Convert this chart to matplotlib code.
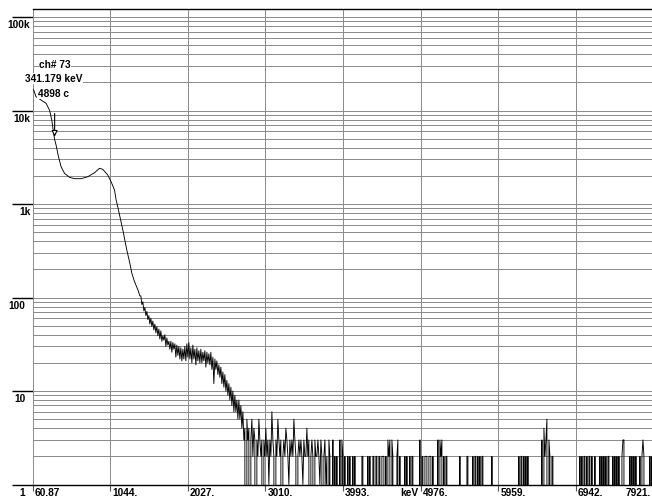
import numpy as np
import matplotlib
matplotlib.use("Agg")
import matplotlib.pyplot as plt
from matplotlib.ticker import LogLocator, NullFormatter
from matplotlib.transforms import blended_transform_factory

# smooth low-energy part of the spectrum (keV, counts)
smooth_kev = [60.87, 62, 77, 106, 170, 233, 276, 305, 331, 341.179, 360, 390,
              423, 466, 530, 593, 676, 761, 846, 909, 951, 1014, 1056, 1099,
              1120, 1141, 1205, 1255, 1290, 1318, 1350, 1382, 1400, 1420]
smooth_counts = [365, 16900, 16500, 14050, 12950, 11940, 10120, 7910, 5500, 4898, 4250, 3200,
                 2505, 2130, 1930, 1866, 1866, 1960, 2160, 2410, 2350, 2042, 1733, 1413,
                 1105, 929, 527, 322, 240, 183, 150, 129, 118, 104]

# one value per screen column (~12.67 keV) above 1430 keV
bin_kev = 12.665
noisy_start_kev = 1433.0
noisy_counts = [104, 84, 90, 72, 78, 64, 71, 58, 64, 52,
                60, 49, 56, 45, 52, 42, 49, 39, 46, 36,
                44, 34, 39, 35, 40, 30, 37, 31, 34, 28,
                34, 26, 33, 28, 32, 23, 31, 24, 30, 22,
                29, 21, 28, 22, 30, 21, 32, 23, 33, 22,
                29, 20, 31, 22, 28, 19, 29, 21, 27, 20,
                28, 20, 26, 21, 27, 18, 26, 20, 25, 19,
                26, 17, 23, 12, 22, 17, 21, 15, 19, 14,
                18, 12, 16, 11, 15, 10, 13, 9, 12, 8,
                11, 7, 10, 6, 9, 6, 8, 5, 8, 5,
                7, 4, 6, 3]
tail_rows = [
    "4053403524", "3032532303", "2423132632", "0325323023", "2432132325",
    "3202323213", "2242302320", "3223213202", "3120320030", "2020030320",
    "2002020020", "2000000220", "0002020022", "0220220222", "0203230320",
    "0023020000", "2020020220", "0000030220", "2220222020", "0003032302",
    "0220000000", "0000020000", "0022000020", "2202020220", "0000000200",
    "0000000000", "0000000000", "0000202202", "0202000000", "0000000304",
    "2350320220", "0000000000", "0000000000", "0000020202", "2020220200",
    "2000020202", "0202200020", "2020200233", "0000020202", "0200020232",
    "0000020200",
]

x_ticks = [60.87, 1044, 2027, 3010, 3993, 4976, 5959, 6942, 7921]
x_tick_labels = ["60.87", "1044.", "2027.", "3010.", "3993.", "4976.", "5959.", "6942.", "7921."]
y_ticks = [1, 10, 100, 1000, 10000, 100000]
y_tick_labels = ["1", "10", "100", "1k", "10k", "100k"]

cursor_channel = 73
cursor_kev = 341.179
cursor_counts = 4898

plt.rcParams["font.family"] = ["Liberation Sans", "DejaVu Sans"]
txt = dict(fontsize=7.3, fontweight="bold", color="black")

tail_counts = [int(c) for c in "".join(tail_rows)]
tail_start_kev = noisy_start_kev + len(noisy_counts) * bin_kev
noisy_kev = noisy_start_kev + np.arange(len(noisy_counts)) * bin_kev
tail_kev = tail_start_kev + np.arange(len(tail_counts)) * bin_kev

kev = np.concatenate([smooth_kev, noisy_kev, tail_kev])
counts = np.concatenate([smooth_counts, noisy_counts, tail_counts]).astype(float)

W, H = 652, 499
fig = plt.figure(figsize=(W / 100, H / 100), dpi=100)
ax = fig.add_axes([32.5 / W, 14.5 / H, 621.1 / W, 475.5 / H])
ax.set_yscale("log", nonpositive="clip")
ax.set_xlim(60.87, 7925.8)
ax.set_ylim(1, 10 ** 5.086)

grid_col = "#8c8c8c"
ax.set_yticks(y_ticks)
ax.yaxis.set_minor_locator(LogLocator(base=10, subs=range(2, 10)))
ax.yaxis.set_minor_formatter(NullFormatter())
ax.tick_params(axis="y", which="major", length=14.9, width=1.0, color="black",
               direction="out", labelleft=False)
ax.tick_params(axis="y", which="minor", length=0, labelleft=False)
ax.set_xticks(x_ticks)
ax.tick_params(axis="x", which="major", length=4, width=0.8, color="#555555",
               direction="out", labelbottom=False)
ax.grid(True, axis="y", which="both", color=grid_col, lw=0.72)
ax.grid(True, axis="x", which="major", color=grid_col, lw=0.72)
ax.set_axisbelow(True)

ax.spines["right"].set_visible(False)
ax.spines["left"].set_color(grid_col)
ax.spines["left"].set_linewidth(0.72)
for s in ("top", "bottom"):
    ax.spines[s].set_color("black")
    ax.spines[s].set_linewidth(1.0)

ax.plot(kev, counts, color="black", lw=0.65, zorder=3)

# axis labels drawn by hand so each can sit where the analyser puts it
xt = blended_transform_factory(ax.transData, ax.transAxes)
for v, lab in zip(x_ticks, x_tick_labels):
    if v == x_ticks[-1]:
        ha, dx = "right", -2.5
    else:
        ha, dx = "left", 2
    ax.annotate(lab, xy=(v, 0), xycoords=xt, xytext=(dx, -3),
                textcoords="offset pixels", ha=ha, va="top", **txt)
ax.annotate("keV", xy=(4976, 0), xycoords=xt, xytext=(-2, -3),
            textcoords="offset pixels", ha="right", va="top", **txt)

yt = blended_transform_factory(ax.transAxes, ax.transData)
for v, lab in zip(y_ticks, y_tick_labels):
    dx = -2 if lab.endswith("k") else -7
    ax.annotate(lab, xy=(0, v), xycoords=yt, xytext=(dx, -3),
                textcoords="offset pixels", ha="right", va="top", **txt)

# cursor readout
box = dict(facecolor="white", edgecolor="none", pad=0.3)
readout = [(f"ch# {cursor_channel}", 0.2, 71.2),
           (f"{cursor_kev:.3f} keV", -0.6, 57.8),
           (f"{cursor_counts} c", -1.5, 42.8)]
for s, dx, dy in readout:
    ax.annotate(s, xy=(cursor_kev, cursor_counts), xytext=(dx, dy),
                textcoords="offset pixels", ha="center", va="baseline",
                bbox=box, zorder=5, annotation_clip=False, **txt)
ax.annotate("", xy=(cursor_kev, cursor_counts), xytext=(0, 26),
            textcoords="offset pixels",
            arrowprops=dict(arrowstyle="-|>", facecolor="white", edgecolor="black",
                            lw=0.8, mutation_scale=9, shrinkA=0, shrinkB=2))

fig.savefig("out.png", dpi=100, facecolor="white")
